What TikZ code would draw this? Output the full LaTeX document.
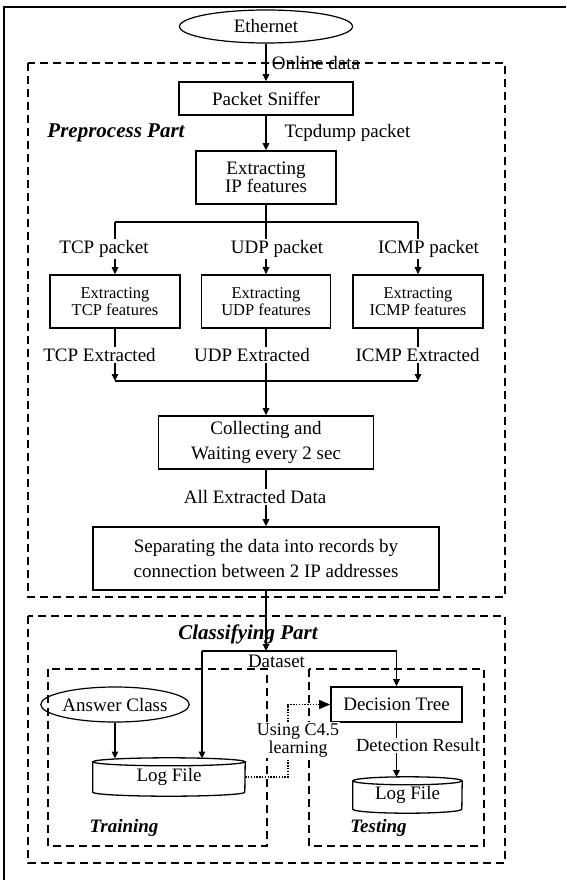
\documentclass[tikz,border=0pt]{standalone}
\usepackage{fontspec}
\setmainfont{Liberation Serif}
\usetikzlibrary{arrows.meta,shapes.geometric}
\begin{document}
\begin{tikzpicture}[x=1pt,y=-1pt,
  every node/.style={font=\fontsize{19}{19}\selectfont, inner sep=0pt},
  box/.style={draw, line width=1.6pt, align=center},
  ell/.style={draw, ellipse, line width=1.2pt},
  lab/.style={fill=white, inner sep=1pt},
  arr/.style={line width=1.2pt, -{Triangle[length=7pt,width=6.5pt]}},
  ln/.style={line width=1.2pt},
  cyl/.style={line width=1.3pt},
  dbox/.style={line width=1.8pt, dash pattern=on 8pt off 5pt},
  dots/.style={line width=1.2pt, dash pattern=on 1.4pt off 1.4pt, -{Triangle[length=11pt,width=9pt]}},
  part/.style={font=\fontsize{21}{21}\selectfont\bfseries\itshape},
  small/.style={font=\fontsize{16.5}{16.5}\selectfont},
]
\useasboundingbox (0,0) rectangle (566,880);
\draw[line width=1.6pt] (4,880) -- (4,7) -- (566,7);

% dashed frames
\draw[dbox] (28,63) rectangle (505,597);
\draw[dbox] (28,616) rectangle (505,863);
\draw[dbox] (48,669) rectangle (267,846);
\draw[dbox] (309,669) rectangle (484,846);

% nodes
\node[ell, minimum width=173, minimum height=33] (eth) at (266,26.5) {Ethernet};
\node[box, minimum width=174, minimum height=33] (sniff) at (266,98.5) {Packet Sniffer};
\node[box, minimum width=140, minimum height=53, font=\fontsize{19}{18}\selectfont] (ip) at (266,177.5) {Extracting\\IP features};
\node[box, small, minimum width=130, minimum height=53, font=\fontsize{16.5}{16.5}\selectfont] (tcp) at (115,301.5) {Extracting\\TCP features};
\node[box, small, minimum width=129, minimum height=53, font=\fontsize{16.5}{16.5}\selectfont] (udp) at (266,301.5) {Extracting\\UDP features};
\node[box, small, minimum width=130, minimum height=53, font=\fontsize{16.5}{16.5}\selectfont] (icmp) at (418,301.5) {Extracting\\ICMP features};
\node[box, minimum width=215, minimum height=53, font=\fontsize{19}{25}\selectfont] (coll) at (266,442.5) {Collecting and\\Waiting every 2 sec};
\node[box, minimum width=346, minimum height=63, font=\fontsize{19}{25}\selectfont] (sep) at (266,558.5) {Separating the data into records by\\connection between 2 IP addresses};
\node[ell, minimum width=130, minimum height=35] (ans) at (115,704.5) {Answer Class};
\node[box, minimum width=131, minimum height=35] (dt) at (396.5,704.5) {Decision Tree};
\node[minimum width=152, minimum height=30] (log1) at (169,777) {Log File};
\node[minimum width=109, minimum height=28] (log2) at (407.5,795) {Log File};

% cylinders
\draw[cyl] (log1.north west) -- (log1.south west) arc[start angle=180, end angle=360, x radius=76pt, y radius=4pt] -- (log1.north east);
\draw[cyl] (log1.north) ellipse [x radius=76pt, y radius=4pt];
\draw[cyl] (log2.north west) -- (log2.south west) arc[start angle=180, end angle=360, x radius=54.5pt, y radius=4pt] -- (log2.north east);
\draw[cyl] (log2.north) ellipse [x radius=54.5pt, y radius=4pt];

% coordinates
\coordinate (br) at (266,222);
\coordinate (brL) at (115,222);
\coordinate (brR) at (418,222);
\coordinate (jL) at (115,381);
\coordinate (jR) at (418,381);
\coordinate (ds) at (266,651);
\coordinate (dsL) at (202,651);
\coordinate (dsR) at (396.5,651);
\coordinate (log1top) at (169,758.5);
\coordinate (log2top) at (407.5,777);
\coordinate (mid) at (288,740);

% connectors
\draw[arr] (eth.south) -- (sniff.north);
\draw[arr] (sniff.south) -- (ip.north);
\draw[ln] (ip.south) -- (br);
\draw[ln] (brL) -- (brR);
\draw[arr] (brL) -- (tcp.north);
\draw[arr] (br) -- (udp.north);
\draw[arr] (brR) -- (icmp.north);
\draw[arr] (tcp.south) -- (jL);
\draw[arr] (icmp.south) -- (jR);
\draw[ln] (jL) -- (jR);
\draw[arr] (udp.south) -- (coll.north);
\draw[arr] (coll.south) -- (sep.north);
\draw[arr] (sep.south) -- (ds);
\draw[ln] (dsL) -- (dsR);
\draw[arr] (dsL) -- (dsL |- log1top);
\draw[arr] (dsR) -- (dt.north);
\draw[arr] (ans.south) -- (ans.south |- log1top);
\draw[arr] (dt.south) -- (dt.south |- log2top);
\draw[dots] (log1.east) -| (mid) |- (dt.west);

% labels
\node (online) at (316,63) {Online data};
\node[part] (pre) at (116,133) {Preprocess Part};
\node (tcpdump) at (347.5,133) {Tcpdump packet};
\node[lab] (tcppk) at (104,249) {TCP packet};
\node[lab] (udppk) at (277,249) {UDP packet};
\node[lab] (icmppk) at (428.5,249) {ICMP packet};
\node[lab] (tcpex) at (99.5,355) {TCP Extracted};
\node[lab] (udpex) at (252,355) {UDP Extracted};
\node[lab] (icmpex) at (417.5,355) {ICMP Extracted};
\node[lab] (alld) at (255,497) {All Extracted Data};
\node[part] (clsp) at (248,634) {Classifying Part};
\node (dset) at (276.5,661) {Dataset};
\node[lab, align=center, font=\fontsize{18}{18}\selectfont] (learn) at (298,740) {Using C4.5\\learning};
\node[lab, font=\fontsize{18.5}{18.5}\selectfont] (detr) at (418,745) {Detection Result};
\node[part, font=\fontsize{19}{19}\selectfont\bfseries\itshape] (train) at (124,828) {Training};
\node[part, font=\fontsize{19}{19}\selectfont\bfseries\itshape] (test) at (378.5,828) {Testing};
\end{tikzpicture}
\end{document}
